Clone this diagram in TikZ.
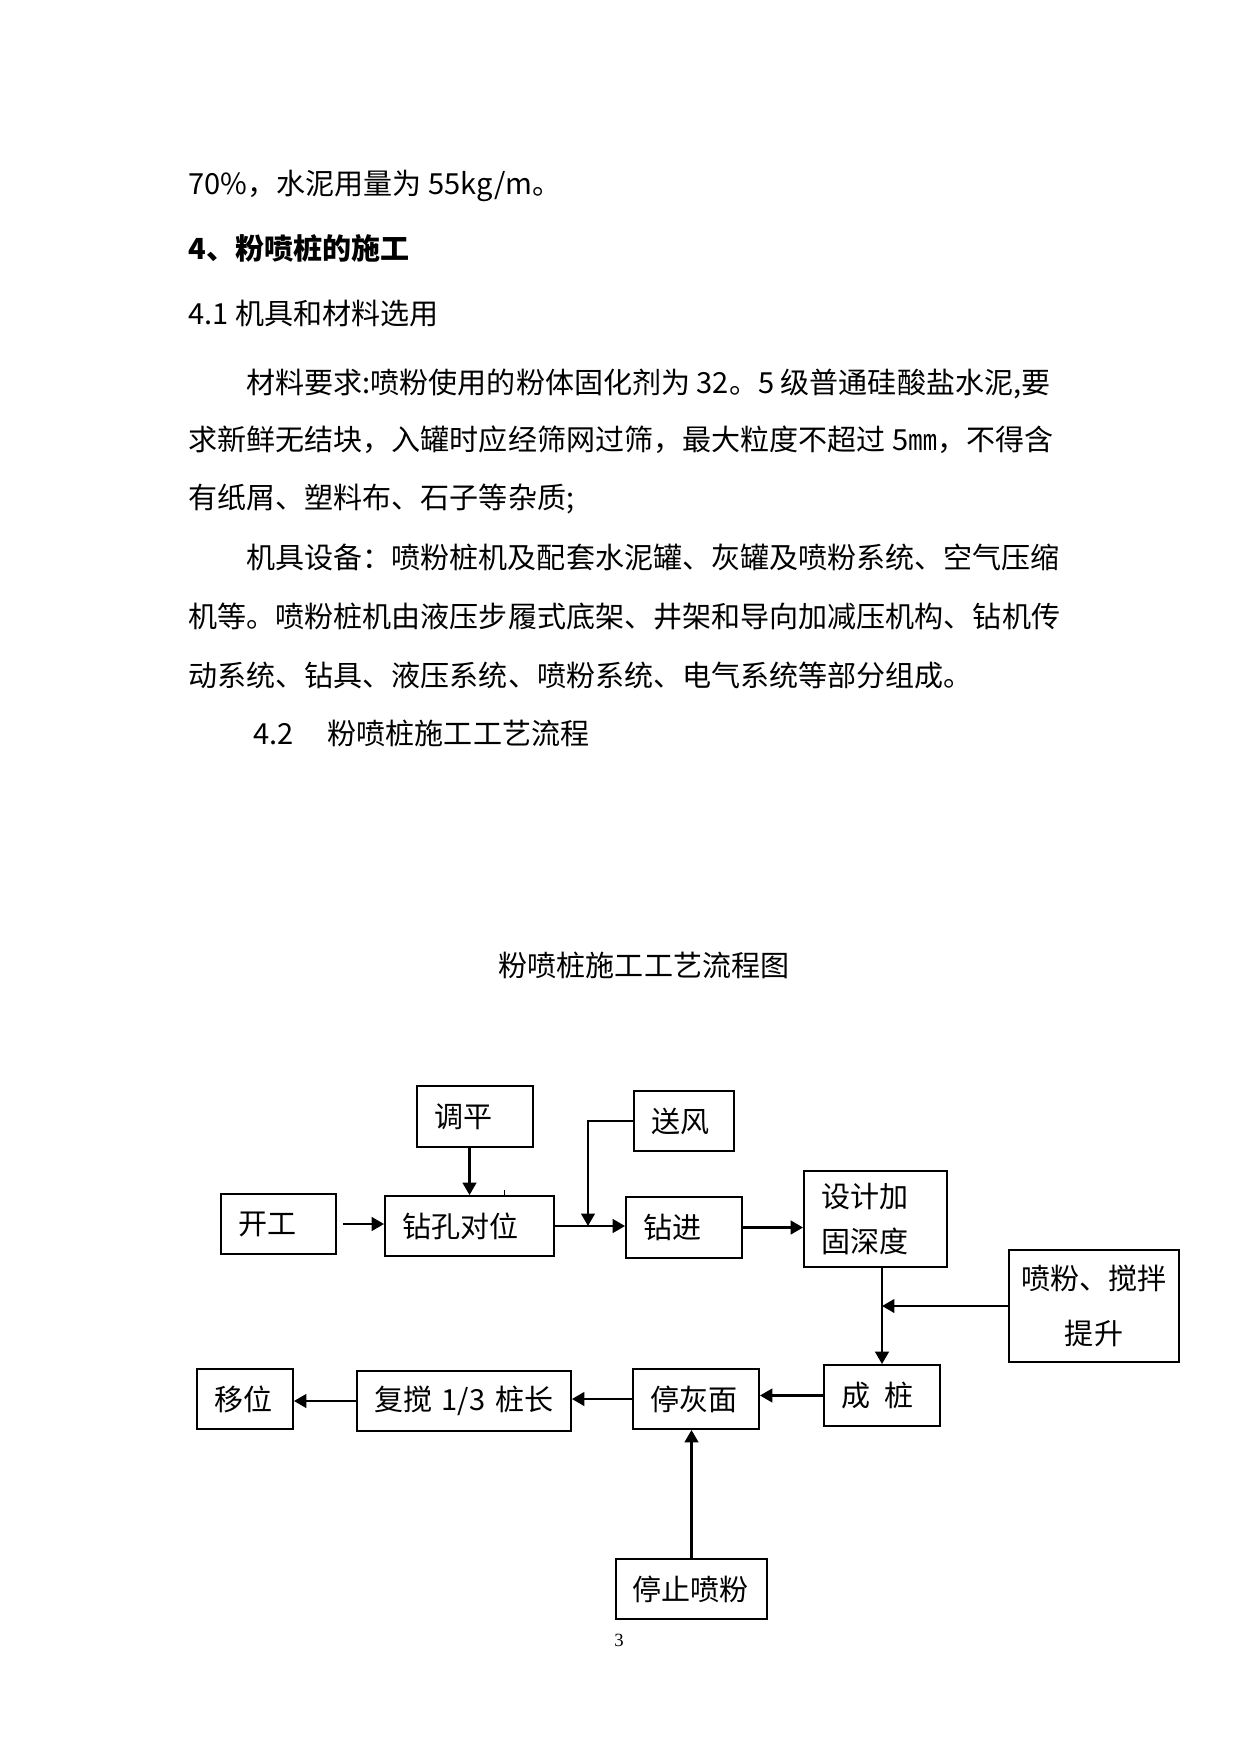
\documentclass[tikz,border=0pt]{standalone}
\usepackage{fontspec}
\setmainfont{Noto Sans CJK SC}
\newfontfamily\numfont{Liberation Serif}
\usetikzlibrary{arrows.meta}
\newlength\px
\setlength\px{0.48181pt}

\begin{document}
\begin{tikzpicture}[x=0.48181pt, y=-0.48181pt,
        para/.style={anchor=base west, inner sep=0pt, font=\fontsize{14pt}{17pt}\selectfont},
        box/.style={draw, line width=1.8\px, inner xsep=17\px, inner ysep=0pt, align=left,
            font=\fontsize{14pt}{17pt}\selectfont},
        arr/.style={line width=2.8\px, -{Triangle[length=6pt, width=6.5pt]}},
    ]

        \useasboundingbox (0,0) rectangle (1241,1754);

        % text above the chart
        \node[para] (l1) at (188,194) {70\%，水泥用量为 55kg/m。};
        \node[para, font=\fontsize{14pt}{17pt}\selectfont\bfseries] (l2) at (188,259) {4、粉喷桩的施工};
        \node[para] (l3) at (188,324) {4.1 机具和材料选用};
        \node[para] (l4) at (246,393) {材料要求:喷粉使用的粉体固化剂为 32。5 级普通硅酸盐水泥,要};
        \node[para] (l5) at (188,450) {求新鲜无结块，入罐时应经筛网过筛，最大粒度不超过 5㎜，不得含};
        \node[para] (l6) at (188,508) {有纸屑、塑料布、石子等杂质;};
        \node[para] (l7) at (246,568) {机具设备：喷粉桩机及配套水泥罐、灰罐及喷粉系统、空气压缩};
        \node[para] (l8) at (188,627) {机等。喷粉桩机由液压步履式底架、井架和导向加减压机构、钻机传};
        \node[para] (l9) at (188,686) {动系统、钻具、液压系统、喷粉系统、电气系统等部分组成。};
        \node[para] (l10) at (253,744) {4.2\hspace{34\px}粉喷桩施工工艺流程};

        \node[anchor=base, inner sep=0pt, font=\fontsize{14pt}{17pt}\selectfont] (title) at (644,976) {粉喷桩施工工艺流程图};

        % boxes
        \node[box, minimum width=116\px, minimum height=61\px, text width=82\px] (tiaoping) at (475,1116.5) {调平};
        \node[box, minimum width=100\px, minimum height=60\px, text width=66\px] (songfeng) at (684,1121) {送风};
        \node[box, minimum width=115\px, minimum height=60\px, text width=81\px] (kaigong) at (278.5,1224) {开工};
        \node[box, minimum width=169\px, minimum height=60\px, text width=135\px] (zuankong) at (469.5,1226) {钻孔对位};
        \node[box, minimum width=116\px, minimum height=61\px, text width=82\px] (zuanjin) at (684,1227.5) {钻进};
        \node[box, minimum width=143\px, minimum height=96\px, text width=109\px,
            font=\fontsize{14pt}{21.7pt}\selectfont] (sheji) at (875.5,1219) {设计加\\固深度};
        \node[box, minimum width=170\px, minimum height=112\px, inner xsep=10\px, text width=150\px,
            align=center, font=\fontsize{14pt}{26.5pt}\selectfont] (penfen) at (1094,1306) {喷粉、搅拌\\提升};
        \node[box, minimum width=116\px, minimum height=61\px, text width=82\px] (chengzhuang) at (882,1395.5) {成\enspace 桩};
        \node[box, minimum width=126\px, minimum height=60\px, text width=92\px] (tinghui) at (696,1399) {停灰面};
        \node[box, minimum width=214\px, minimum height=60\px, text width=180\px] (fujiao) at (464,1401) {复搅~1/3~桩长};
        \node[box, minimum width=96\px, minimum height=60\px, text width=62\px] (yiwei) at (245,1399) {移位};
        \node[box, minimum width=151\px, minimum height=60\px, inner xsep=16\px, text width=119\px] (tingzhi) at (691.5,1589) {停止喷粉};

        % connectors
        \draw[arr, shorten <=2.9pt] (kaigong.east) -- (kaigong.east -| zuankong.west);
        \draw[arr] (zuankong.north |- tiaoping.south) -- (zuankong.north);
        \draw[line width=1.4\px] ([xshift=17pt]zuankong.north) -- ++(0,-5);
        \draw[arr] (zuankong.east) -- (zuankong.east -| zuanjin.west);
        \coordinate (feed) at (588,1226);
        \draw[arr] (songfeng.west) -| (feed);
        \draw[arr] (zuanjin.east) -- (zuanjin.east -| sheji.west);
        \draw[arr] (chengzhuang.north |- sheji.south) -- (chengzhuang.north);
        \draw[arr] (penfen.west) -- (penfen.west -| chengzhuang.north);
        \draw[arr] (chengzhuang.west) -- (chengzhuang.west -| tinghui.east);
        \draw[arr] (tinghui.west) -- (tinghui.west -| fujiao.east);
        \draw[arr] (fujiao.west) -- (fujiao.west -| yiwei.east);
        \draw[arr] (tingzhi.north) -- (tingzhi.north |- tinghui.south);

        \node[inner sep=0pt, font=\numfont\fontsize{9pt}{11pt}\selectfont] (page) at (619,1640) {3};

    \end{tikzpicture}
\end{document}
